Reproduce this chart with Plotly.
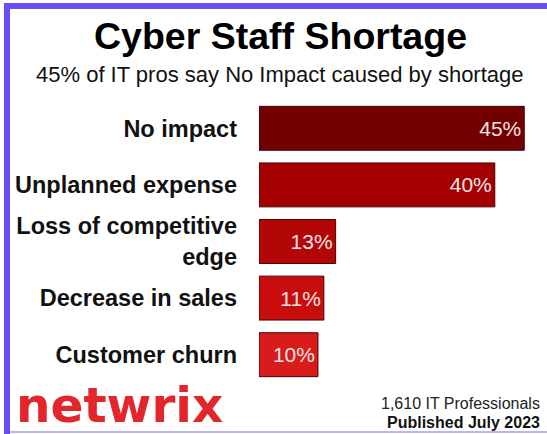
import plotly.graph_objects as go

# chart data
categories = ['No impact', 'Unplanned expense', 'Loss of competitive<br>edge',
              'Decrease in sales', 'Customer churn']
values = [45, 40, 13, 11, 10]
bar_colors = ['#720000', '#a40000', '#b30606', '#c90d0d', '#d81b1b']
title = 'Cyber Staff Shortage'
subtitle = '45% of IT pros say No Impact caused by shortage'
source_lines = ['1,610 IT Professionals', '<b>Published July 2023</b>']
brand = 'netwrix'

W, H = 547, 434
L, R, T, B = 259, 8, 100, 51
PW, PH = W - L - R, H - T - B


def px_x(x):
    return (x - L) / PW


def px_y(y):
    return (H - B - y) / PH


ARIAL = 'Arial, Liberation Sans, sans-serif'

fig = go.Figure(go.Bar(
    x=values,
    y=categories,
    orientation='h',
    marker=dict(color=bar_colors, line=dict(color='#4a0000', width=1)),
    text=[f'{v}%' for v in values],
    textposition='inside',
    insidetextanchor='end',
    textfont=dict(family=ARIAL, size=21, color='#f6e4e4'),
    cliponaxis=False,
))

fig.update_xaxes(range=[0, 47.5], visible=False, fixedrange=True)
fig.update_yaxes(autorange='reversed', showgrid=False, zeroline=False,
                 showline=False, ticks='', ticklabelstandoff=21,
                 tickfont=dict(family=ARIAL, size=23.5, color='#111111',
                               weight='bold'))

annotations = [
    dict(text=f'<b>{title}</b>', x=px_x(280), y=px_y(36),
         font=dict(family=ARIAL, size=37.5, color='#000000')),
    dict(text=subtitle, x=px_x(280), y=px_y(74),
         font=dict(family=ARIAL, size=22, color='#111111')),
    dict(text=f'<b>{brand}</b>', x=px_x(14), y=px_y(405), xanchor='left',
         font=dict(family='DejaVu Sans', size=48.5, color='#e2262b')),
    dict(text=source_lines[0], x=px_x(542), y=px_y(403), xanchor='right',
         font=dict(family=ARIAL, size=16, color='#222222')),
    dict(text=source_lines[1], x=px_x(542), y=px_y(422), xanchor='right',
         font=dict(family=ARIAL, size=16, color='#111111')),
]
for a in annotations:
    a.update(xref='paper', yref='paper', showarrow=False)
    a.setdefault('xanchor', 'center')
    a.setdefault('yanchor', 'middle')

purple = '#6b4cf2'
shapes = [
    dict(type='rect', x0=px_x(4), x1=px_x(W + 2), y0=px_y(3), y1=px_y(9),
         fillcolor=purple, line_width=0),
    dict(type='rect', x0=px_x(4), x1=px_x(10), y0=px_y(3), y1=px_y(H + 2),
         fillcolor=purple, line_width=0),
    dict(type='rect', x0=px_x(10), x1=px_x(W + 2), y0=px_y(431), y1=px_y(433),
         fillcolor='#bdb4f6', line_width=0),
]
for s in shapes:
    s.update(xref='paper', yref='paper', layer='above')

fig.update_layout(
    width=W, height=H,
    margin=dict(l=L, r=R, t=T, b=B),
    paper_bgcolor='white', plot_bgcolor='white',
    bargap=0.224,
    showlegend=False,
    annotations=annotations,
    shapes=shapes,
)

fig.write_html('out.html', config={'displayModeBar': False},
               post_script="document.body.style.margin='0';"
                           "document.body.style.overflow='hidden';")
